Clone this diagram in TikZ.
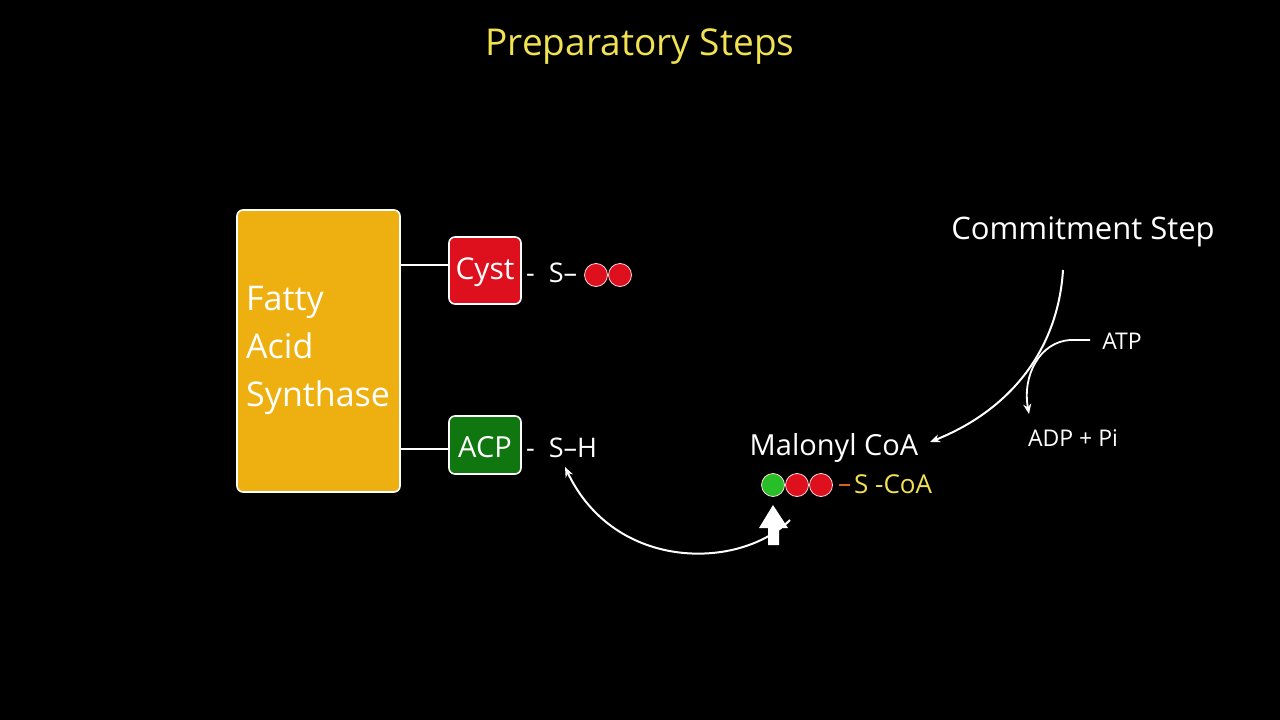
\documentclass[tikz,border=0pt]{standalone}
\usepackage{fontspec}
\setmainfont{Open Sans}
\usepackage{xcolor}
\usetikzlibrary{arrows.meta}
\definecolor{titleyellow}{RGB}{240, 226, 80}
\definecolor{fasorange}{RGB}{238, 176, 16}
\definecolor{cystred}{RGB}{222, 16, 30}
\definecolor{acpgreen}{RGB}{16, 118, 16}
\definecolor{balgreen}{RGB}{40, 190, 40}
\definecolor{linkorange}{RGB}{210, 100, 30}

\begin{document}
\begin{tikzpicture}[x=1pt, y=-1pt, >={Stealth[length=10pt,width=8pt]}]
    \tikzset{
        enzbox/.style={draw=white, line width=1.6pt, rounded corners=6pt, inner sep=0pt},
        ball/.style={circle, draw=white!85!red, line width=0.8pt, minimum size=23pt, inner sep=0pt},
        wlabel/.style={text=white, inner sep=0pt, anchor=center},
        flow/.style={draw=white, line width=2pt, ->}
    }
    \fill[black] (0,0) rectangle (1280,720);
    \useasboundingbox (0,0) rectangle (1280,720);

    % title
    \node[text=titleyellow, font=\fontsize{37}{42}\selectfont] (title) at (640,47) {Preparatory Steps};

    % enzyme
    \node[enzbox, fill=fasorange, minimum width=163pt, minimum height=282pt] (fas) at (318.5,351) {};
    \node[wlabel, anchor=west, align=left, font=\fontsize{34}{48}\selectfont] (fastext) at (246,350) {Fatty\\Acid\\Synthase};

    \node[enzbox, fill=cystred, minimum width=72pt, minimum height=67pt] (cyst) at (485,270.5) {};
    \node[wlabel, font=\fontsize{30}{34}\selectfont] at (485,272) {Cyst};
    \node[enzbox, fill=acpgreen, minimum width=72pt, minimum height=58pt] (acp) at (485,445) {};
    \node[wlabel, font=\fontsize{29}{34}\selectfont] at (485,447) {ACP};
    \draw[white, line width=1.6pt] (fas.east |- 0,265) -- (cyst.west |- 0,265);
    \draw[white, line width=1.6pt] (fas.east |- 0,449) -- (acp.west |- 0,449);

    % thioesters
    \node[wlabel, anchor=base west, font=\fontsize{27}{30}\selectfont] (cysts) at (526,282) {-\hspace{14pt}S–\hspace{-1pt}};
    \node[ball, fill=cystred] (c1) at (596,275) {};
    \node[ball, fill=cystred] (c2) at (620,275) {};
    \node[wlabel, anchor=base west, font=\fontsize{27}{30}\selectfont] (acpsh) at (526,457) {-\hspace{14pt}S–H};

    % malonyl CoA
    \node[wlabel, font=\fontsize{29}{34}\selectfont] (malonyl) at (834,448) {Malonyl CoA};
    \node[ball, fill=balgreen] (m1) at (773,485) {};
    \node[ball, fill=cystred] (m2) at (797,485) {};
    \node[ball, fill=cystred] (m3) at (821,485) {};
    \draw[linkorange, line width=1.8pt] (839,485) -- (850,485);
    \node[wlabel, anchor=west, text=titleyellow, font=\fontsize{26}{30}\selectfont] (scoa) at (854,484) {S -CoA};

    % commitment step
    \node[wlabel, font=\fontsize{31}{36}\selectfont] (commit) at (1083,232) {Commitment Step};
    \node[wlabel, font=\fontsize{23}{26}\selectfont] (atp) at (1122,341) {ATP};
    \node[wlabel, font=\fontsize{23}{26}\selectfont] (adp) at (1073,438) {ADP + Pi};
    \coordinate (cstart) at (1063,270);
    \coordinate (atpend) at (1090,340);
    \draw[flow] (cstart) .. controls (1058,350) and (1010,410) .. (930,442);
    \draw[flow, line width=1.8pt] (atpend) -- (1070,340) .. controls (1040,342) and (1022,375) .. (1029,414);

    % transfer to ACP
    \coordinate (tstart) at (790,520);
    \draw[flow] (tstart) .. controls (740,570) and (615,572) .. (565,467);

    % pointer
    \fill[white] (773,505) -- (788,528) -- (779,528) -- (779,545) -- (768,545) -- (768,528) -- (759,528) -- cycle;
\end{tikzpicture}
\end{document}
